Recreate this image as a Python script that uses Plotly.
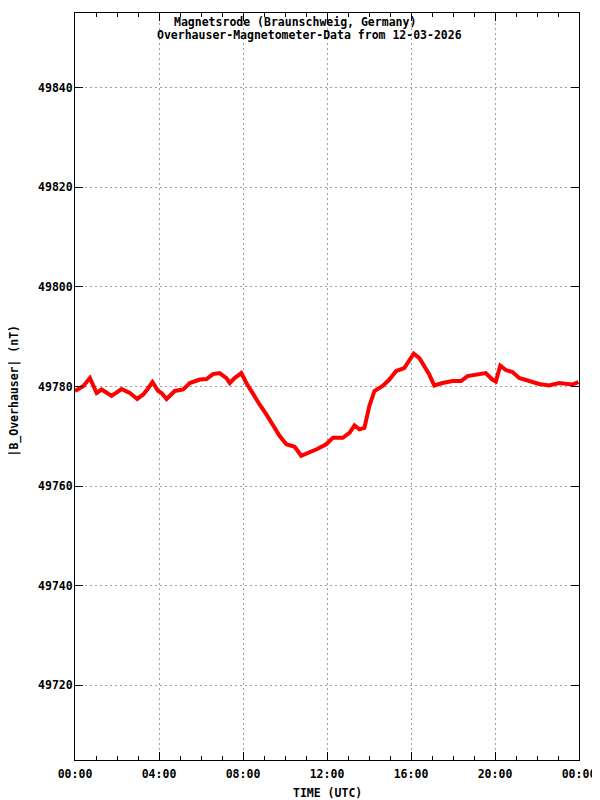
import plotly.graph_objects as go

# hours since 00:00 UTC and |B| in nT
hours = [0.0, 0.4, 0.71, 1.03, 1.27, 1.5, 1.74, 2.22, 2.61, 2.96, 3.25, 3.44, 3.69,
         3.96, 4.12, 4.36, 4.75, 5.15, 5.47, 5.94, 6.26, 6.57, 6.89, 7.21, 7.37,
         7.6, 7.92, 8.16, 8.47, 8.79, 9.11, 9.42, 9.74, 10.06, 10.46, 10.77, 11.09,
         11.56, 11.96, 12.28, 12.75, 13.07, 13.31, 13.54, 13.78, 14.02, 14.26, 14.65,
         14.97, 15.29, 15.68, 15.92, 16.13, 16.4, 16.63, 16.87, 17.11, 17.5, 17.98,
         18.38, 18.69, 19.09, 19.56, 19.87, 20.04, 20.25, 20.52, 20.83, 21.15, 21.63,
         22.1, 22.58, 23.05, 23.68, 23.97]
b_total = [49779.1, 49780.1, 49781.7, 49778.7, 49779.4, 49778.7, 49778.1, 49779.5,
           49778.7, 49777.5, 49778.4, 49779.4, 49780.9, 49779.1, 49778.7, 49777.5,
           49779.1, 49779.4, 49780.7, 49781.4, 49781.5, 49782.5, 49782.7, 49781.7,
           49780.7, 49781.7, 49782.7, 49780.7, 49778.4, 49776.4, 49774.4, 49772.1,
           49770.1, 49768.4, 49767.9, 49766.1, 49766.6, 49767.5, 49768.4, 49769.7,
           49769.7, 49770.7, 49772.2, 49771.4, 49771.7, 49776.1, 49779.1, 49780.1,
           49781.4, 49783.1, 49783.7, 49785.4, 49786.6, 49785.7, 49784.1, 49782.4,
           49780.2, 49780.7, 49781.1, 49781.1, 49782.1, 49782.4, 49782.7, 49781.4,
           49781.0, 49784.2, 49783.3, 49782.9, 49781.7, 49781.1, 49780.5, 49780.2,
           49780.7, 49780.4, 49780.9]

x_ticks = [0, 4, 8, 12, 16, 20, 24]
x_labels = ["00:00", "04:00", "08:00", "12:00", "16:00", "20:00", "00:00"]
y_ticks = [49720, 49740, 49760, 49780, 49800, 49820, 49840]

FONT = dict(family="DejaVu Sans Mono", size=11.5, color="black")
GRID = "#a0a0a0"

fig = go.Figure(go.Scatter(
    x=hours, y=b_total, mode="lines",
    line=dict(color="#ff0000", width=4),
    showlegend=False,
))

# page body adds an 8px offset, so the figure is 8px smaller and margins shifted
fig.update_layout(
    width=592, height=792,
    margin=dict(l=67, r=21, t=5, b=40),
    paper_bgcolor="white", plot_bgcolor="white",
    font=FONT,
    xaxis=dict(
        range=[0, 24], tickvals=x_ticks, ticktext=[f"<b>{t}</b>" for t in x_labels],
        showgrid=True, gridcolor=GRID, griddash="2px,3px", gridwidth=1,
        showline=True, linecolor="black", linewidth=1, mirror="ticks",
        ticks="inside", ticklen=8, tickcolor="black", ticklabelstandoff=3,
        minor=dict(dtick=1, ticks="inside", ticklen=4, tickcolor="black", showgrid=False),
        zeroline=False, automargin=False,
    ),
    yaxis=dict(
        range=[49705, 49855], tickvals=y_ticks,
        ticktext=[f"<b>{v}</b>" for v in y_ticks],
        showgrid=True, gridcolor=GRID, griddash="2px,3px", gridwidth=1,
        showline=True, linecolor="black", linewidth=1, mirror="ticks",
        ticks="inside", ticklen=8, tickcolor="black", ticklabelstandoff=-1,
        zeroline=False, automargin=False,
    ),
    annotations=[
        dict(text="<b>Magnetsrode (Braunschweig, Germany)</b>", xref="paper", yref="paper",
             x=0.4365, y=0.9884, xanchor="center", yanchor="middle", showarrow=False, font=FONT),
        dict(text="<b>Overhauser-Magnetometer-Data from 12-03-2026</b>", xref="paper", yref="paper",
             x=0.465, y=0.9705, xanchor="center", yanchor="middle", showarrow=False, font=FONT),
        dict(text="<b>TIME (UTC)</b>", xref="paper", yref="paper",
             x=0.5, y=0, yshift=-33, xanchor="center", yanchor="middle", showarrow=False, font=FONT),
        dict(text="<b>|B_Overhauser| (nT)</b>", xref="paper", yref="paper", textangle=-90,
             x=0, xshift=-61, y=0.5, yshift=-4, xanchor="center", yanchor="middle",
             showarrow=False, font=FONT),
    ],
)

fig.write_html("out.html")
